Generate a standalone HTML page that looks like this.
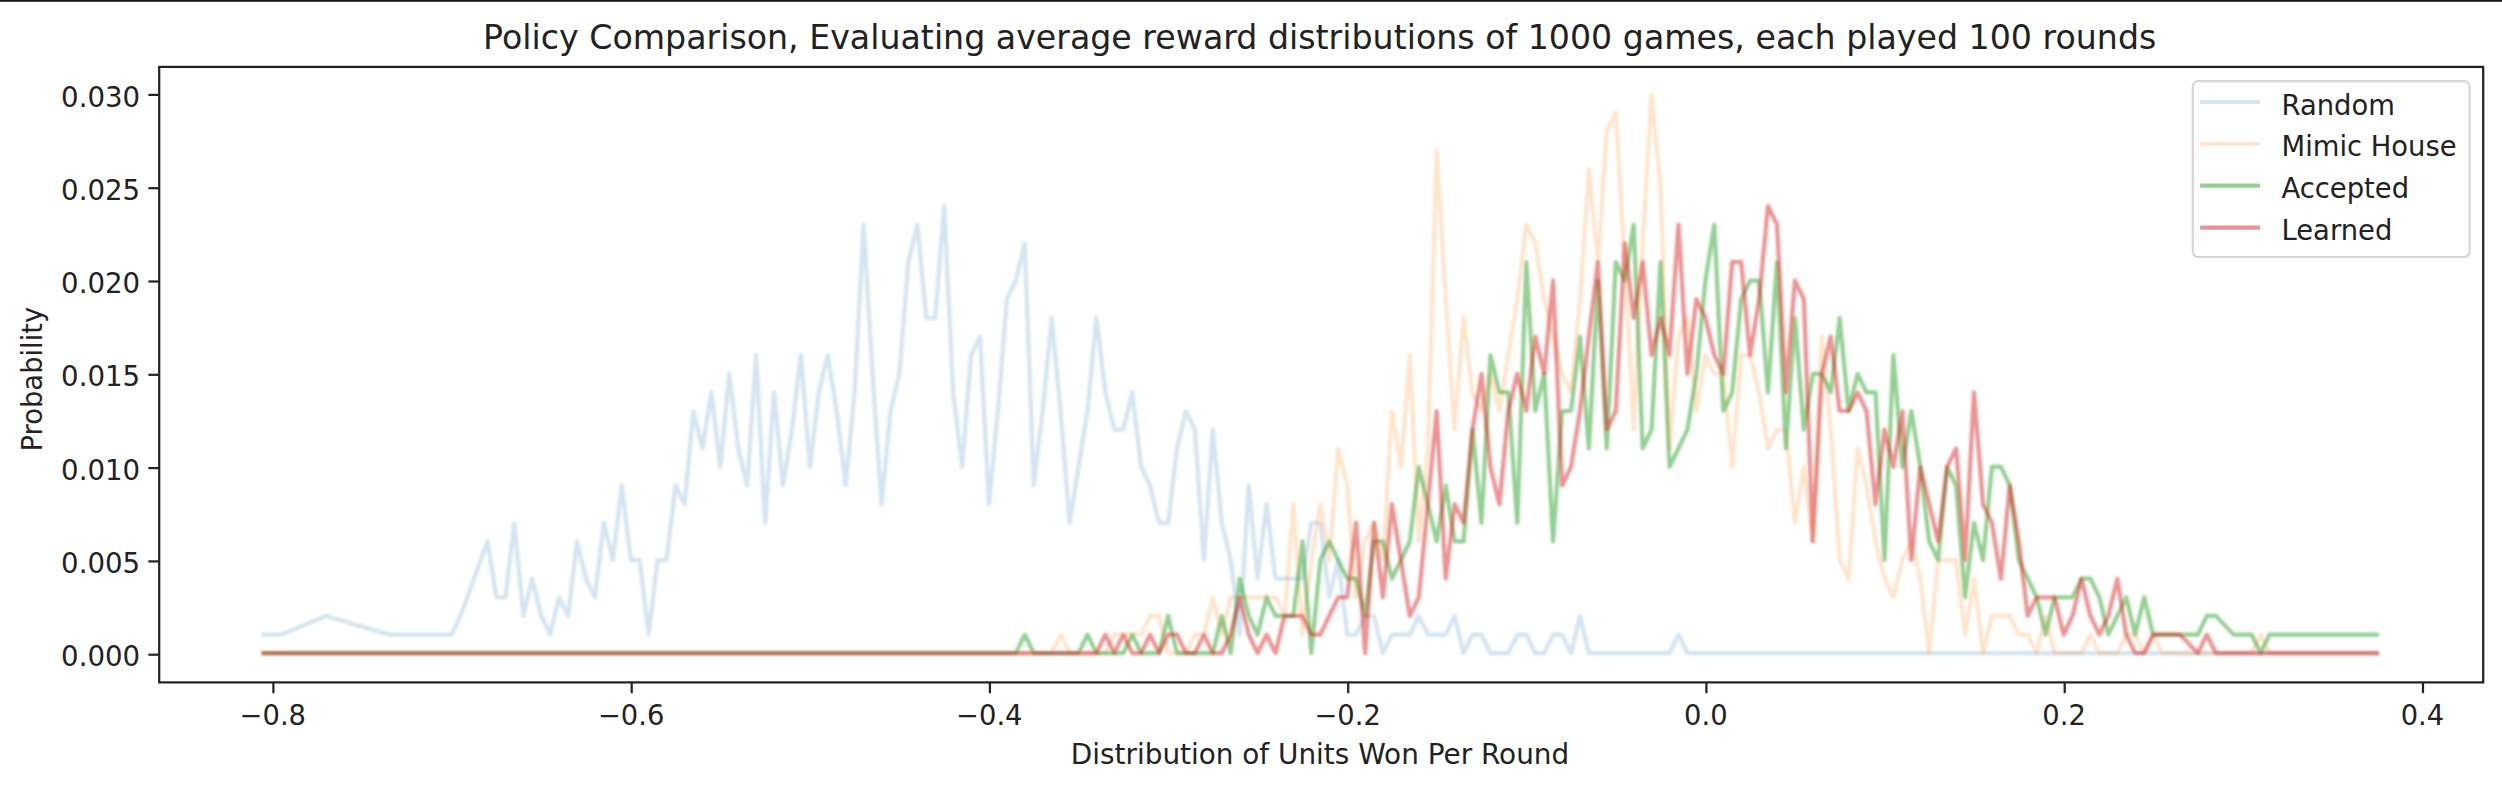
<!DOCTYPE html>
<html><head><meta charset="utf-8"><title>Policy Comparison</title>
<style>
html,body{margin:0;padding:0;background:#fff;}
body{width:2502px;height:786px;overflow:hidden;}
svg{display:block;}
text{font-family:"DejaVu Sans", "Liberation Sans", sans-serif;fill:#222222;}
</style></head><body>
<svg width="2502" height="786" viewBox="0 0 2502 786">
<defs><filter id="soft" x="-2%" y="-5%" width="104%" height="110%"><feGaussianBlur stdDeviation="0.9"/></filter></defs>
<g>
<rect x="-40" y="-40" width="2582" height="866" fill="#ffffff"/>
<rect x="-40" y="-40" width="2582" height="41.8" fill="#161616"/>

<clipPath id="c"><rect x="159.2" y="66.9" width="2324.0" height="615.5"/></clipPath>
<g clip-path="url(#c)"><g filter="url(#soft)" fill="none" stroke-width="4.17" stroke-linejoin="round" stroke-linecap="square">
<polyline points="263.6,634.6 281.5,634.6 326.3,615.9 389.0,634.6 451.7,634.6 460.6,615.9 487.5,541.4 496.4,597.3 505.4,597.3 514.3,522.8 523.3,615.9 532.2,578.7 541.2,615.9 550.2,634.6 559.1,597.3 568.1,615.9 577.0,541.4 586.0,578.7 594.9,597.3 603.9,522.8 612.8,560.1 621.8,485.5 630.8,560.1 639.7,560.1 648.7,634.6 657.6,560.1 666.6,560.1 675.5,485.5 684.5,504.2 693.4,411.0 702.4,448.3 711.4,392.4 720.3,466.9 729.3,373.8 738.2,448.3 747.2,485.5 756.1,355.1 765.1,522.8 774.0,392.4 783.0,485.5 791.9,429.6 800.9,355.1 809.9,466.9 818.8,392.4 827.8,355.1 836.7,411.0 845.7,485.5 854.6,392.4 863.6,224.7 872.5,373.8 881.5,504.2 890.5,411.0 899.4,373.8 908.4,262.0 917.3,224.7 926.3,317.9 935.2,317.9 944.2,206.1 953.1,392.4 962.1,466.9 971.0,355.1 980.0,336.5 989.0,504.2 997.9,411.0 1006.9,299.2 1015.8,280.6 1024.8,243.3 1033.7,485.5 1042.7,411.0 1051.6,317.9 1060.6,411.0 1069.6,522.8 1078.5,466.9 1087.5,411.0 1096.4,317.9 1105.4,392.4 1114.3,429.6 1123.3,429.6 1132.2,392.4 1141.2,466.9 1150.1,485.5 1159.1,522.8 1168.1,522.8 1177.0,448.3 1186.0,411.0 1194.9,429.6 1203.9,560.1 1212.8,429.6 1221.8,522.8 1230.7,560.1 1239.7,634.6 1248.7,485.5 1257.6,578.7 1266.6,504.2 1275.5,578.7 1284.5,578.7 1293.4,578.7 1302.4,578.7 1311.3,522.8 1320.3,522.8 1329.2,597.3 1338.2,560.1 1347.2,634.6 1356.1,634.6 1365.1,615.9 1374.0,615.9 1383.0,653.2 1391.9,634.6 1400.9,634.6 1409.8,634.6 1418.8,615.9 1427.8,634.6 1436.7,634.6 1445.7,634.6 1454.6,615.9 1463.6,653.2 1472.5,634.6 1481.5,634.6 1490.4,653.2 1499.4,653.2 1508.3,653.2 1517.3,634.6 1526.3,634.6 1535.2,653.2 1544.2,653.2 1553.1,634.6 1562.1,634.6 1571.0,653.2 1580.0,615.9 1588.9,653.2 1669.5,653.2 1678.5,634.6 1687.4,653.2 2377.0,653.2" stroke="#1f77b4" stroke-opacity="0.2"/>
<polyline points="263.6,653.2 1051.6,653.2 1060.6,634.6 1069.6,653.2 1105.4,653.2 1114.3,634.6 1123.3,634.6 1132.2,634.6 1141.2,634.6 1150.1,615.9 1159.1,615.9 1168.1,653.2 1177.0,653.2 1186.0,653.2 1194.9,634.6 1203.9,634.6 1212.8,597.3 1221.8,634.6 1230.7,597.3 1239.7,597.3 1248.7,597.3 1257.6,597.3 1266.6,597.3 1275.5,597.3 1284.5,615.9 1293.4,504.2 1302.4,634.6 1311.3,560.1 1320.3,504.2 1329.2,560.1 1338.2,448.3 1347.2,485.5 1356.1,597.3 1365.1,541.4 1374.0,522.8 1383.0,560.1 1391.9,411.0 1400.9,466.9 1409.8,355.1 1418.8,541.4 1427.8,448.3 1436.7,150.2 1445.7,299.2 1454.6,429.6 1463.6,317.9 1472.5,392.4 1481.5,411.0 1490.4,373.8 1499.4,411.0 1508.3,355.1 1517.3,299.2 1526.3,224.7 1535.2,243.3 1544.2,299.2 1553.1,336.5 1562.1,373.8 1571.0,392.4 1580.0,299.2 1588.9,168.8 1597.9,262.0 1606.8,131.6 1615.8,112.9 1624.8,262.0 1633.7,429.6 1642.7,243.3 1651.6,94.3 1660.6,187.5 1669.5,448.3 1678.5,336.5 1687.4,317.9 1696.4,411.0 1705.4,355.1 1714.3,373.8 1723.3,373.8 1732.2,466.9 1741.2,355.1 1750.1,355.1 1759.1,392.4 1768.0,448.3 1777.0,429.6 1785.9,429.6 1794.9,522.8 1803.9,466.9 1812.8,541.4 1821.8,336.5 1830.7,429.6 1839.7,560.1 1848.6,578.7 1857.6,448.3 1866.5,485.5 1875.5,541.4 1884.5,578.7 1893.4,597.3 1902.4,560.1 1911.3,541.4 1920.3,578.7 1929.2,653.2 1938.2,560.1 1947.1,560.1 1956.1,560.1 1965.1,634.6 1974.0,578.7 1983.0,653.2 1991.9,615.9 2000.9,615.9 2009.8,615.9 2018.8,634.6 2027.7,634.6 2036.7,653.2 2045.6,615.9 2054.6,653.2 2063.6,653.2 2072.5,653.2 2081.5,653.2 2090.4,634.6 2099.4,653.2 2108.3,653.2 2117.3,653.2 2126.2,634.6 2135.2,634.6 2144.2,653.2 2153.1,634.6 2162.1,653.2 2251.6,653.2 2260.6,634.6 2269.5,653.2 2377.0,653.2" stroke="#ff7f0e" stroke-opacity="0.2"/>
<polyline points="263.6,653.2 1015.8,653.2 1024.8,634.6 1033.7,653.2 1078.5,653.2 1087.5,634.6 1096.4,653.2 1123.3,653.2 1132.2,634.6 1141.2,653.2 1159.1,653.2 1168.1,615.9 1177.0,653.2 1212.8,653.2 1221.8,615.9 1230.7,653.2 1239.7,578.7 1248.7,615.9 1257.6,634.6 1266.6,597.3 1275.5,615.9 1284.5,615.9 1293.4,615.9 1302.4,541.4 1311.3,653.2 1320.3,560.1 1329.2,541.4 1338.2,560.1 1347.2,578.7 1356.1,578.7 1365.1,615.9 1374.0,541.4 1383.0,541.4 1391.9,578.7 1400.9,560.1 1409.8,541.4 1418.8,466.9 1427.8,504.2 1436.7,541.4 1445.7,485.5 1454.6,541.4 1463.6,541.4 1472.5,429.6 1481.5,522.8 1490.4,355.1 1499.4,392.4 1508.3,392.4 1517.3,522.8 1526.3,262.0 1535.2,411.0 1544.2,373.8 1553.1,541.4 1562.1,411.0 1571.0,411.0 1580.0,336.5 1588.9,448.3 1597.9,280.6 1606.8,448.3 1615.8,262.0 1624.8,280.6 1633.7,224.7 1642.7,448.3 1651.6,429.6 1660.6,262.0 1669.5,466.9 1678.5,448.3 1687.4,429.6 1696.4,373.8 1705.4,280.6 1714.3,224.7 1723.3,411.0 1732.2,392.4 1741.2,299.2 1750.1,280.6 1759.1,280.6 1768.0,392.4 1777.0,262.0 1785.9,448.3 1794.9,317.9 1803.9,429.6 1812.8,373.8 1821.8,373.8 1830.7,392.4 1839.7,317.9 1848.6,411.0 1857.6,373.8 1866.5,392.4 1875.5,392.4 1884.5,560.1 1893.4,355.1 1902.4,466.9 1911.3,411.0 1920.3,466.9 1929.2,541.4 1938.2,560.1 1947.1,466.9 1956.1,485.5 1965.1,597.3 1974.0,522.8 1983.0,560.1 1991.9,466.9 2000.9,466.9 2009.8,485.5 2018.8,560.1 2027.7,578.7 2036.7,597.3 2045.6,634.6 2054.6,597.3 2063.6,597.3 2072.5,597.3 2081.5,578.7 2090.4,578.7 2099.4,597.3 2108.3,634.6 2117.3,615.9 2126.2,597.3 2135.2,634.6 2144.2,597.3 2153.1,634.6 2162.1,634.6 2171.0,634.6 2180.0,634.6 2188.9,634.6 2197.9,634.6 2206.8,615.9 2215.8,615.9 2233.7,634.6 2251.6,634.6 2260.6,653.2 2269.5,634.6 2377.0,634.6" stroke="#2ca02c" stroke-opacity="0.5"/>
<polyline points="263.6,653.2 1096.4,653.2 1105.4,634.6 1114.3,653.2 1123.3,634.6 1132.2,653.2 1141.2,653.2 1150.1,634.6 1159.1,653.2 1168.1,634.6 1177.0,634.6 1186.0,653.2 1194.9,653.2 1203.9,634.6 1212.8,653.2 1221.8,653.2 1230.7,634.6 1239.7,597.3 1248.7,634.6 1257.6,653.2 1266.6,634.6 1275.5,653.2 1284.5,615.9 1293.4,615.9 1302.4,615.9 1311.3,634.6 1320.3,634.6 1329.2,615.9 1338.2,597.3 1347.2,597.3 1356.1,522.8 1365.1,653.2 1374.0,522.8 1383.0,597.3 1391.9,504.2 1400.9,560.1 1409.8,615.9 1418.8,597.3 1427.8,504.2 1436.7,411.0 1445.7,578.7 1454.6,504.2 1463.6,522.8 1472.5,429.6 1481.5,373.8 1490.4,466.9 1499.4,504.2 1508.3,411.0 1517.3,373.8 1526.3,411.0 1535.2,336.5 1544.2,373.8 1553.1,280.6 1562.1,485.5 1571.0,466.9 1580.0,411.0 1588.9,336.5 1597.9,262.0 1606.8,429.6 1615.8,411.0 1624.8,243.3 1633.7,317.9 1642.7,262.0 1651.6,355.1 1660.6,317.9 1669.5,355.1 1678.5,224.7 1687.4,373.8 1696.4,299.2 1705.4,317.9 1714.3,355.1 1723.3,373.8 1732.2,262.0 1741.2,262.0 1750.1,355.1 1759.1,299.2 1768.0,206.1 1777.0,224.7 1785.9,392.4 1794.9,280.6 1803.9,299.2 1812.8,541.4 1821.8,373.8 1830.7,336.5 1839.7,411.0 1848.6,411.0 1857.6,392.4 1866.5,411.0 1875.5,504.2 1884.5,429.6 1893.4,466.9 1902.4,411.0 1911.3,560.1 1920.3,466.9 1929.2,504.2 1938.2,541.4 1947.1,466.9 1956.1,448.3 1965.1,560.1 1974.0,392.4 1983.0,504.2 1991.9,522.8 2000.9,578.7 2009.8,485.5 2018.8,541.4 2027.7,615.9 2036.7,597.3 2045.6,597.3 2054.6,597.3 2063.6,634.6 2072.5,615.9 2081.5,578.7 2090.4,615.9 2099.4,634.6 2108.3,615.9 2117.3,578.7 2126.2,634.6 2135.2,653.2 2144.2,653.2 2153.1,634.6 2162.1,634.6 2171.0,634.6 2180.0,634.6 2197.9,653.2 2206.8,634.6 2215.8,653.2 2377.0,653.2" stroke="#d62728" stroke-opacity="0.5"/>
</g></g>
<rect x="159.2" y="66.9" width="2324.0" height="615.5" fill="none" stroke="#222222" stroke-width="2.22"/>
<g stroke="#222222" stroke-width="2.22">
<line x1="273.4" x2="273.4" y1="682.4" y2="693.2"/>
<line x1="631.7" x2="631.7" y1="682.4" y2="693.2"/>
<line x1="989.9" x2="989.9" y1="682.4" y2="693.2"/>
<line x1="1348.2" x2="1348.2" y1="682.4" y2="693.2"/>
<line x1="1706.4" x2="1706.4" y1="682.4" y2="693.2"/>
<line x1="2064.7" x2="2064.7" y1="682.4" y2="693.2"/>
<line x1="2423.0" x2="2423.0" y1="682.4" y2="693.2"/>
<line x1="159.2" x2="148.4" y1="654.7" y2="654.7"/>
<line x1="159.2" x2="148.4" y1="561.4" y2="561.4"/>
<line x1="159.2" x2="148.4" y1="468.1" y2="468.1"/>
<line x1="159.2" x2="148.4" y1="374.8" y2="374.8"/>
<line x1="159.2" x2="148.4" y1="281.5" y2="281.5"/>
<line x1="159.2" x2="148.4" y1="188.2" y2="188.2"/>
<line x1="159.2" x2="148.4" y1="94.9" y2="94.9"/>
</g>
<g font-size="27.78">
<text transform="translate(272.8,725.0) scale(0.985,1)" text-anchor="middle">−0.8</text>
<text transform="translate(631.1,725.0) scale(0.985,1)" text-anchor="middle">−0.6</text>
<text transform="translate(989.3,725.0) scale(0.985,1)" text-anchor="middle">−0.4</text>
<text transform="translate(1347.6,725.0) scale(0.985,1)" text-anchor="middle">−0.2</text>
<text transform="translate(1705.8,725.0) scale(0.985,1)" text-anchor="middle">0.0</text>
<text transform="translate(2064.1,725.0) scale(0.985,1)" text-anchor="middle">0.2</text>
<text transform="translate(2422.4,725.0) scale(0.985,1)" text-anchor="middle">0.4</text>
<text transform="translate(140.2,666.3) scale(0.995,1)" text-anchor="end">0.000</text>
<text transform="translate(140.2,573.0) scale(0.995,1)" text-anchor="end">0.005</text>
<text transform="translate(140.2,479.7) scale(0.995,1)" text-anchor="end">0.010</text>
<text transform="translate(140.2,386.4) scale(0.995,1)" text-anchor="end">0.015</text>
<text transform="translate(140.2,293.1) scale(0.995,1)" text-anchor="end">0.020</text>
<text transform="translate(140.2,199.8) scale(0.995,1)" text-anchor="end">0.025</text>
<text transform="translate(140.2,106.5) scale(0.995,1)" text-anchor="end">0.030</text>
<text x="1320.0" y="763.9" font-size="27.88" text-anchor="middle">Distribution of Units Won Per Round</text>
<text transform="translate(42.0,379.1) rotate(-90) scale(0.985,1)" text-anchor="middle">Probability</text>
</g>
<text x="1319.7" y="49.4" font-size="33.23" text-anchor="middle">Policy Comparison, Evaluating average reward distributions of 1000 games, each played 100 rounds</text>
<rect x="2192.8" y="81.2" width="276.7999999999997" height="175.8" rx="5.5" ry="5.5" fill="#ffffff" fill-opacity="0.8" stroke="#cccccc" stroke-opacity="0.8" stroke-width="2.2"/>
<line x1="2202.2" x2="2257.8" y1="102.0" y2="102.0" stroke="#1f77b4" stroke-opacity="0.2" stroke-width="4.17" stroke-linecap="square"/>
<text transform="translate(2281.5,114.6) scale(0.986,1)" font-size="27.78">Random</text>
<line x1="2202.2" x2="2257.8" y1="143.8" y2="143.8" stroke="#ff7f0e" stroke-opacity="0.2" stroke-width="4.17" stroke-linecap="square"/>
<text transform="translate(2281.5,156.4) scale(0.986,1)" font-size="27.78">Mimic House</text>
<line x1="2202.2" x2="2257.8" y1="185.7" y2="185.7" stroke="#2ca02c" stroke-opacity="0.5" stroke-width="4.17" stroke-linecap="square"/>
<text transform="translate(2281.5,198.3) scale(0.986,1)" font-size="27.78">Accepted</text>
<line x1="2202.2" x2="2257.8" y1="227.6" y2="227.6" stroke="#d62728" stroke-opacity="0.5" stroke-width="4.17" stroke-linecap="square"/>
<text transform="translate(2281.5,240.2) scale(0.986,1)" font-size="27.78">Learned</text>
</g></svg></body></html>
